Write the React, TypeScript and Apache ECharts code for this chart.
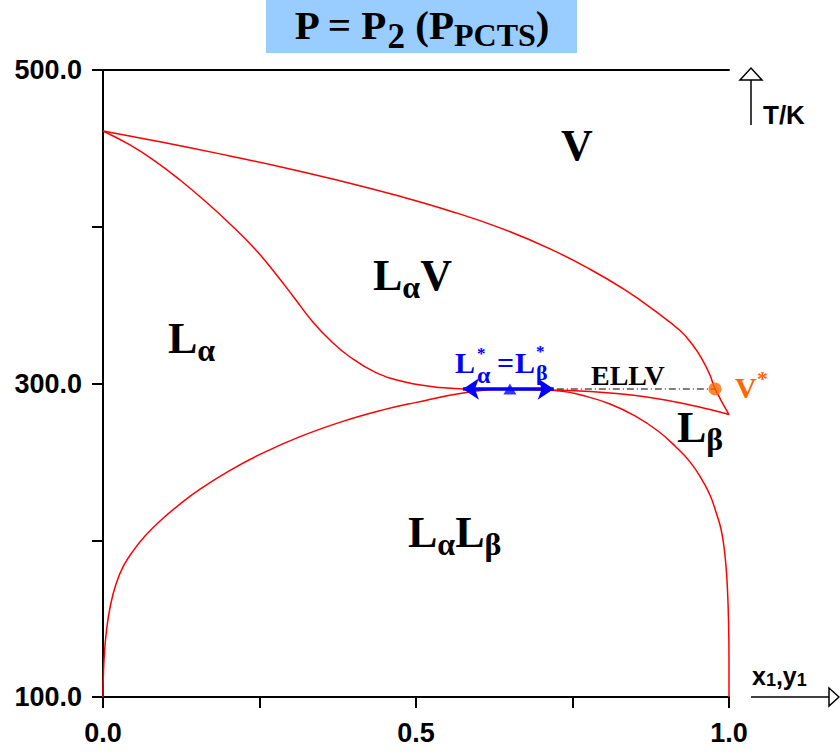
import React, { useEffect, useRef } from 'react';
import * as echarts from 'echarts';

// ---- axis values ----
const xLabelled = [0, 0.5, 1.0];
const yLabelled = [100, 300, 500];

// ---- dew curve (V / LαV boundary) ----
const dewX = [0, 0.0911, 0.1869, 0.2827, 0.3786, 0.4744, 0.5543, 0.6342, 0.7141, 0.778, 0.8339, 0.8818, 0.9217, 0.9409, 0.9569, 0.9696, 0.9776, 1.0];
const dewT = [461.1, 454.2, 446.5, 438.3, 429.3, 419.4, 410.1, 399.3, 385.9, 372.9, 359.7, 346.3, 333.8, 325.2, 315.6, 305.4, 296.7, 280.2];

// ---- bubble curve (LαV lower boundary, continuing as LβV boundary) ----
const bubX = [0, 0.0431, 0.0831, 0.123, 0.1629, 0.2029, 0.2428, 0.2748, 0.3067, 0.3339, 0.3626, 0.3946, 0.4345, 0.4824, 0.5383, 0.6022, 0.6821, 0.746, 0.8099, 0.8738, 0.9377, 0.9696, 1.0];
const bubT = [461.1, 452.2, 441.9, 429.8, 416.4, 401.8, 385.8, 370.5, 354.1, 339.9, 327.7, 316.9, 307.3, 300.9, 297.4, 296.3, 296.0, 295.5, 293.9, 291.1, 286.3, 283.4, 280.2];

// ---- liquid-liquid dome ----
const domeX = [0, 0.0016, 0.0056, 0.012, 0.0208, 0.0327, 0.0479, 0.0671, 0.0911, 0.123, 0.155, 0.2029, 0.2524, 0.3147, 0.3818, 0.4425, 0.4984, 0.5751, 0.647, 0.73, 0.77, 0.8099, 0.8498, 0.8866, 0.9153, 0.9377, 0.9553, 0.9696, 0.9792, 0.9872, 0.992, 0.9952, 0.9976, 0.9992, 1.0, 1.0];
const domeT = [100, 123.6, 142.7, 158.7, 172.1, 183.6, 193.1, 202.7, 212.3, 223.1, 232.6, 244.6, 255.1, 266.1, 275.7, 282.7, 287.8, 293.9, 296.6, 295.2, 292.0, 286.9, 279.3, 269.7, 259.5, 250.0, 239.7, 228.9, 218.0, 207.2, 195.7, 183.6, 168.3, 149.1, 123.6, 100];

// ---- special lines / points ----
const ellvX = [0.725, 0.978];
const ellvT = 296.5;
const criticalX = [0.575, 0.72];
const criticalMidX = 0.65;
const vStar = [0.9776, 296.5];

const zip = (xs: number[], ys: number[]) => xs.map((x, i) => [x, ys[i]]);

const SERIF = "'Liberation Serif', 'Times New Roman', serif";
const SANS = "'Liberation Sans', Arial, Helvetica, sans-serif";
const K_SERIF = 0.3375;
const K_SANS = 0.3465;

function plain(text: string, x: number, baseY: number, size: number, color: string, family = SERIF) {
  const k = family === SERIF ? K_SERIF : K_SANS;
  return {
    type: 'text', x, y: baseY - k * size, silent: true, z: 100,
    style: { text, fill: color, fontSize: size, fontFamily: family, fontWeight: 'bold', align: 'left', verticalAlign: 'middle' },
  };
}

type Part = { t: string; s: number; p: number };
function richText(parts: Part[], x: number, baseY: number, color: string, family = SERIF, align = 'left') {
  const k = family === SERIF ? K_SERIF : K_SANS;
  const H = Math.max(...parts.map((q) => q.s + q.p));
  const p0 = parts[0];
  const baseFromTop = H - p0.p - p0.s * (0.5 - k);
  const rich: any = {};
  parts.forEach((q, i) => {
    rich['p' + i] = { fontSize: q.s, fontFamily: family, fontWeight: 'bold', fill: color, verticalAlign: 'bottom', padding: [0, 0, q.p, 0] };
  });
  return {
    type: 'text', x, y: baseY - baseFromTop, silent: true, z: 100,
    style: {
      text: parts.map((q, i) => `{p${i}|${q.t}}`).join(''),
      rich, align, verticalAlign: 'top', fill: color, fontFamily: family, fontWeight: 'bold',
    },
  };
}

// superscript stacked above subscript, as one two-line text
function stacked(sup: string, sub: string, x: number, top: number, subSize: number, subLH: number, color: string) {
  const base = { fontFamily: SERIF, fontWeight: 'bold', fill: color };
  return {
    type: 'text', x, y: top, silent: true, z: 100,
    style: {
      text: `{a|${sup}}\n{b|${sub}}`,
      rich: { a: { ...base, fontSize: 17, lineHeight: 17.5 }, b: { ...base, fontSize: subSize, lineHeight: subLH } },
      align: 'left', verticalAlign: 'top', fill: color,
    },
  };
}

const M = 44, S = 32, PAD = 6;
const sub2 = (a: string, b: string): Part[] => [{ t: a, s: M, p: PAD }, { t: b, s: S, p: 0 }];

function buildOption(): any {
  const red = { color: '#ff0000', width: 1.5 };
  const labelFont = { fontSize: 27, fontWeight: 'bold', fontFamily: SANS, color: '#000' };
  const axisLine = { show: true, lineStyle: { color: '#000', width: 2 } };
  const curve = (name: string, xs: number[], ys: number[]) => ({
    type: 'line', name, data: zip(xs, ys), showSymbol: false, smooth: 0.45, lineStyle: red, z: 2, silent: true,
  });
  return {
    animation: false,
    backgroundColor: '#ffffff',
    grid: { left: 103, right: 111, top: 70, bottom: 57, containLabel: false },
    xAxis: [
      {
        type: 'value', min: 0, max: 1, interval: 0.25, position: 'bottom',
        axisLine, splitLine: { show: false },
        axisTick: { show: true, length: 11, inside: false, lineStyle: { color: '#000', width: 2 } },
        axisLabel: { ...labelFont, margin: 22, formatter: (v: number) => (xLabelled.some((q) => Math.abs(q - v) < 1e-9) ? v.toFixed(1) : '') },
      },
      {
        type: 'value', min: 0, max: 1, interval: 0.25, position: 'top',
        axisLine, splitLine: { show: false }, axisTick: { show: false }, axisLabel: { show: false },
      },
    ],
    yAxis: [
      {
        type: 'value', min: 100, max: 500, interval: 100, position: 'left',
        axisLine, splitLine: { show: false },
        axisTick: { show: true, length: 11, inside: false, lineStyle: { color: '#000', width: 2 } },
        axisLabel: { ...labelFont, margin: 21, formatter: (v: number) => (yLabelled.includes(v) ? v.toFixed(1) : '') },
      },
      {
        type: 'value', min: 100, max: 500, interval: 100, position: 'right',
        axisLine, splitLine: { show: false },
        axisTick: { show: true, length: 10, inside: true, lineStyle: { color: '#000', width: 2 } },
        axisLabel: { show: false },
      },
    ],
    series: [
      curve('dew', dewX, dewT),
      curve('bubble', bubX, bubT),
      curve('dome', domeX, domeT),
      {
        type: 'line', name: 'ELLV', data: ellvX.map((x) => [x, ellvT]), showSymbol: false,
        lineStyle: { color: '#000', width: 1.2, type: [7, 3, 1, 3] }, z: 3, silent: true,
        markLine: {
          silent: true, symbol: ['arrow', 'arrow'], symbolSize: 16, label: { show: false },
          lineStyle: { color: '#0000ff', width: 3.5, type: 'solid' },
          data: [[{ coord: [criticalX[0], ellvT] }, { coord: [criticalX[1], ellvT] }]],
          z: 5,
        },
      },
      {
        type: 'scatter', name: 'critical', data: [[criticalMidX, ellvT]], symbol: 'triangle', symbolSize: [13, 11],
        itemStyle: { color: '#0000ff' }, z: 6, silent: true,
      },
      {
        type: 'scatter', name: 'Vstar', data: [vStar], symbol: 'circle', symbolSize: 13,
        itemStyle: { color: '#ff6600' }, z: 6, silent: true,
      },
    ],
    graphic: {
      elements: [
        { type: 'rect', shape: { x: 266, y: 0, width: 311, height: 53 }, style: { fill: '#99ccff' }, silent: true, z: 50 },
        richText(
          [
            { t: 'P = P', s: 41, p: 8 },
            { t: '2', s: 35, p: 0 },
            { t: ' (P', s: 41, p: 8 },
            { t: 'PCTS', s: 32, p: 3 },
            { t: ')', s: 41, p: 8 },
          ],
          421.5, 39.3, '#000', SERIF, 'center'
        ),
        // T axis arrow
        { type: 'line', shape: { x1: 751, y1: 125, x2: 751, y2: 80 }, style: { stroke: '#000', lineWidth: 1.5 }, silent: true },
        { type: 'polygon', shape: { points: [[740, 80], [751, 68], [762, 80]] }, style: { fill: '#fff', stroke: '#000', lineWidth: 1.5 }, silent: true },
        plain('T/K', 763, 124, 26, '#000', SANS),
        // x axis arrow
        { type: 'line', shape: { x1: 751, y1: 697, x2: 829, y2: 697 }, style: { stroke: '#000', lineWidth: 1.5 }, silent: true },
        { type: 'polygon', shape: { points: [[829, 688], [839, 697], [829, 706]] }, style: { fill: '#fff', stroke: '#000', lineWidth: 1.5 }, silent: true },
        richText([{ t: 'x', s: 25, p: 0 }, { t: '1', s: 18, p: 0 }, { t: ',y', s: 25, p: 0 }, { t: '1', s: 18, p: 0 }], 752, 685, '#000', SANS),
        // region labels
        plain('V', 561, 160, M, '#000'),
        richText(sub2('L', 'α').concat([{ t: 'V', s: M, p: PAD }]), 373, 290, '#000'),
        richText(sub2('L', 'α'), 168, 353, '#000'),
        richText(sub2('L', 'α').concat(sub2('L', 'β')), 408, 547, '#000'),
        richText(sub2('L', 'β'), 677, 442, '#000'),
        plain('ELLV', 591, 385, 28, '#000'),
        // V* label
        plain('V', 735, 398, 30, '#ff6600'),
        plain('*', 757, 386, 22, '#ff6600'),
        // critical line label  L*α = L*β
        plain('L', 455, 373, 30, '#0000ff'),
        stacked('*', 'α', 477, 345, 24, 24, '#0000ff'),
        plain('=', 497, 373, 30, '#0000ff'),
        plain('L', 515, 373, 30, '#0000ff'),
        stacked('*', 'β', 536, 343, 22, 24, '#0000ff'),
      ],
    },
  };
}

export default function App() {
  const ref = useRef<HTMLDivElement>(null);
  useEffect(() => {
    if (!ref.current) return;
    const chart = echarts.init(ref.current, null, { renderer: 'svg' });
    chart.setOption(buildOption());
    return () => chart.dispose();
  }, []);
  return (
    <div
      ref={ref}
      style={{ position: 'fixed', left: 0, top: 0, width: 840, height: 754, background: '#fff' }}
    />
  );
}
